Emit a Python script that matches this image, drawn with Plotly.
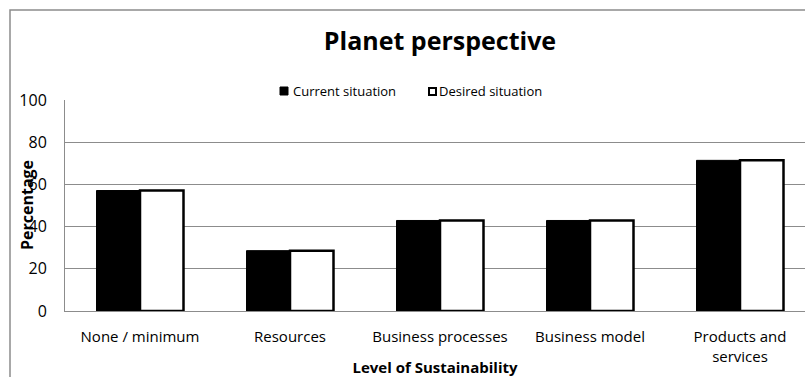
import plotly.graph_objects as go

categories = ["None / minimum", "Resources", "Business processes", "Business model", "Products and<br>services"]
current = [57.1, 28.6, 42.9, 42.9, 71.4]
desired = [57.1, 28.6, 42.9, 42.9, 71.4]
y_ticks = [0, 20, 40, 60, 80, 100]
series_names = ["Current situation", "Desired situation"]

FONT = "Open Sans"
W, H = 805, 377
ml, mr, mt, mb = 65, 0, 100, 66
pw = W - ml - mr
ph = H - mt - mb


def px_x(x):
    return (x - ml) / pw


def px_y(y):
    return (H - mb - y) / ph


fig = go.Figure()
fig.add_trace(go.Bar(name=series_names[0], x=categories, y=current,
                     marker=dict(color="black", line=dict(color="black", width=1))))
fig.add_trace(go.Bar(name=series_names[1], x=categories, y=desired,
                     marker=dict(color="white", line=dict(color="black", width=2.5))))

fig.update_layout(
    width=W, height=H,
    margin=dict(l=ml, r=mr, t=mt, b=mb),
    paper_bgcolor="white", plot_bgcolor="white",
    barmode="group", bargap=0.42, bargroupgap=0.0,
    font=dict(family=FONT, color="black"),
    title=dict(text="<b>Planet perspective</b>", x=440 / W, xanchor="center",
               y=1 - 41 / H, yanchor="middle", font=dict(size=25, family=FONT)),
    showlegend=False,
)
fig.update_xaxes(range=[-0.5, -0.5 + pw / 150], showgrid=False, showline=True,
                 linecolor="#8c8c8c", linewidth=1, ticks="", tickfont=dict(size=15, family=FONT),
                 ticklabelstandoff=12,
                 title=dict(text="<b>Level of Sustainability</b>", font=dict(size=15, family=FONT),
                            standoff=0))
fig.update_yaxes(range=[0, 100], tickvals=y_ticks, showgrid=True, gridcolor="#8c8c8c",
                 gridwidth=1, showline=True, linecolor="#8c8c8c", linewidth=1,
                 tickfont=dict(size=16, family=FONT), ticklabelstandoff=14, zeroline=False)

fig.add_annotation(text="<b>Percentage</b>", textangle=-90, xref="paper", yref="paper",
                   x=px_x(27), y=px_y(205), showarrow=False,
                   font=dict(size=16, family=FONT), xanchor="center", yanchor="middle")

# legend (manual, to match the original placement)
fig.add_shape(type="rect", xref="paper", yref="paper",
              x0=px_x(280), x1=px_x(288), y0=px_y(95), y1=px_y(87),
              fillcolor="black", line=dict(color="black", width=1))
fig.add_annotation(text=series_names[0], xref="paper", yref="paper", x=px_x(291), y=px_y(91),
                   showarrow=False, xanchor="left", yanchor="middle", font=dict(size=13, family=FONT))
fig.add_shape(type="rect", xref="paper", yref="paper",
              x0=px_x(429), x1=px_x(436), y0=px_y(95), y1=px_y(88),
              fillcolor="white", line=dict(color="black", width=2))
fig.add_annotation(text=series_names[1], xref="paper", yref="paper", x=px_x(437), y=px_y(91),
                   showarrow=False, xanchor="left", yanchor="middle", font=dict(size=13, family=FONT))

fig.add_shape(type="rect", xref="paper", yref="paper",
              x0=px_x(10), x1=1.2, y0=-1, y1=px_y(10),
              line=dict(color="#8c8c8c", width=1.5), layer="below")

fig.write_html("out.html")
